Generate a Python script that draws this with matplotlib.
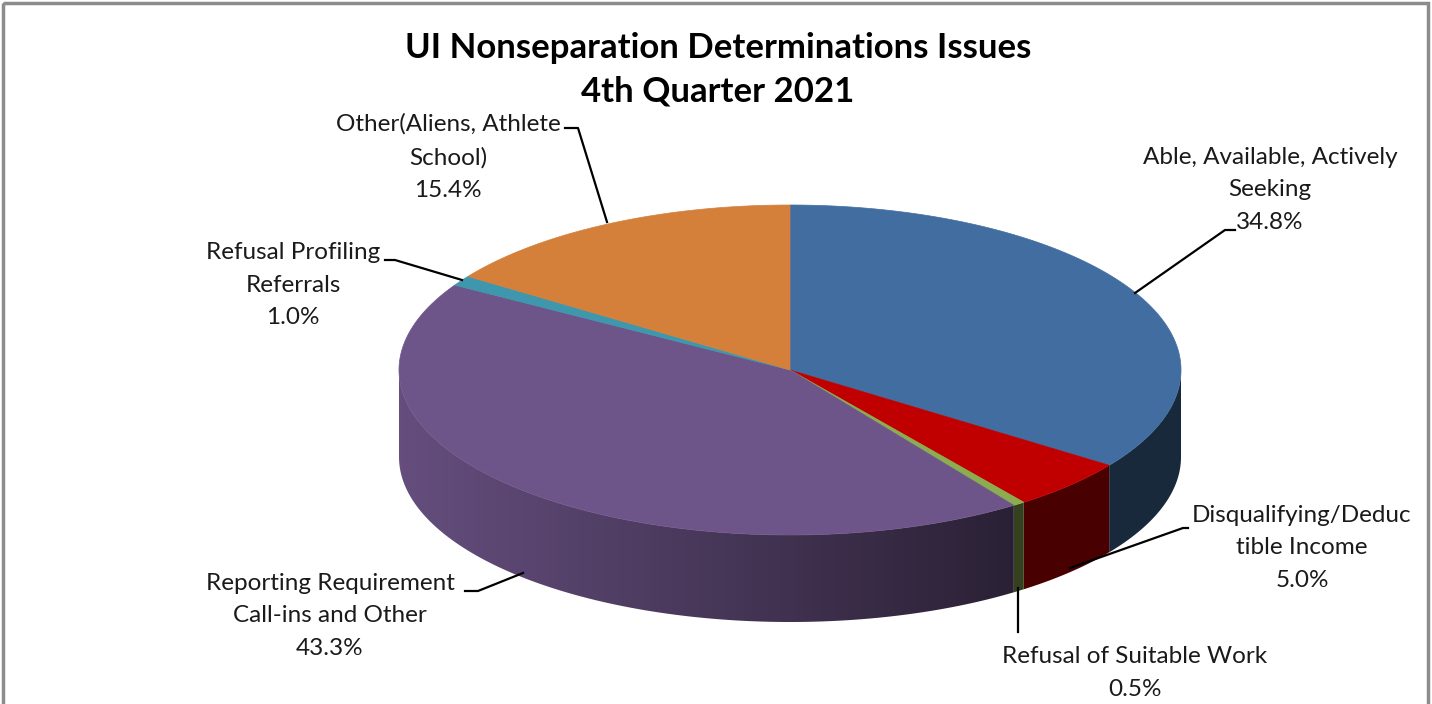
import matplotlib
matplotlib.use("Agg")
import matplotlib.pyplot as plt
import numpy as np
from matplotlib.patches import Polygon, Rectangle

labels = ["Able, Available, Actively\nSeeking",
          "Disqualifying/Deduc\ntible Income",
          "Refusal of Suitable Work",
          "Reporting Requirement\nCall-ins and Other",
          "Refusal Profiling\nReferrals",
          "Other(Aliens, Athlete\nSchool)"]
shares = [34.8, 5.0, 0.5, 43.3, 1.0, 15.4]
colors = ["#426DA0", "#C00000", "#8CAC50", "#6E5589", "#3E97AD", "#D4803A"]

# label text centre, leader line points (pixel space)
label_pos = [(1270, 190), (1302, 548), (1135, 673), (330, 616), (293, 285), (448, 157)]
leaders = [[(1235, 230), (1225, 230), (1135, 293)],
           [(1188, 528), (1183, 528), (1070, 568)],
           [(1018, 632), (1018, 588)],
           [(465, 591), (478, 591), (523, 573)],
           [(385, 260), (395, 260), (462, 280)],
           [(565, 128), (578, 128), (607, 222)]]

plt.rcParams['font.family'] = ['Lato', 'DejaVu Sans']

W, H = 1432, 704
fig = plt.figure(figsize=(W / 100, H / 100), dpi=100)
ax = fig.add_axes([0, 0, 1, 1])
ax.set_xlim(0, W)
ax.set_ylim(H, 0)
ax.axis("off")

ax.add_patch(Rectangle((3, 3), 1425, 720, fill=False, edgecolor="#8c8c8c", lw=2.5))

cx, cy, rx, ry, depth = 790, 370, 391, 165, 87


def pt(t, dy=0):
    r = np.radians(t)
    return cx + rx * np.sin(r), cy - ry * np.cos(r) + dy


bounds = np.concatenate([[0], np.cumsum(shares) / np.sum(shares) * 360])

# shading across the wall, by horizontal position
xs = np.linspace(cx - rx, cx + rx, 800)
u = (xs - cx) / rx
fac = np.maximum(0.38, 0.92 - 0.34 * (u + 1))

# side walls (front half only)
for i, c in enumerate(colors):
    a0, a1 = max(bounds[i], 90), min(bounds[i + 1], 270)
    if a1 <= a0:
        continue
    ts = np.linspace(a0, a1, 200)
    top = [pt(t) for t in ts]
    bot = [pt(t, depth) for t in ts[::-1]]
    wall = Polygon(top + bot, closed=True, facecolor="none", edgecolor="none")
    ax.add_patch(wall)
    base = np.array(matplotlib.colors.to_rgb(c))
    img = np.clip(fac[None, :, None] * base[None, None, :], 0, 1)
    im = ax.imshow(img, extent=(cx - rx, cx + rx, cy + ry + depth + 2, cy - 2),
                   aspect="auto", interpolation="bilinear", zorder=1)
    im.set_clip_path(wall)

# top faces
for i, c in enumerate(colors):
    ts = np.linspace(bounds[i], bounds[i + 1], max(3, int(bounds[i + 1] - bounds[i]) * 2))
    verts = [(cx, cy)] + [pt(t) for t in ts]
    ax.add_patch(Polygon(verts, closed=True, facecolor=c, edgecolor=c, lw=0.5, zorder=2))

ax.set_xlim(0, W)
ax.set_ylim(H, 0)

# labels and leader lines
for i in range(len(labels)):
    x, y = label_pos[i]
    ax.text(x, y, labels[i] + "\n" + f"{shares[i]:.1f}%", ha="center", va="center",
            fontsize=17.5, color="#1a1a1a", linespacing=1.7, zorder=4)
    lx, ly = zip(*leaders[i])
    ax.plot(lx, ly, color="black", lw=1.6, zorder=3)

ax.text(718, 70, "UI Nonseparation Determinations Issues\n4th Quarter 2021",
        ha="center", va="center", fontsize=25, fontweight="bold", color="black",
        linespacing=1.45, zorder=4)

fig.savefig("out.png", dpi=100)
